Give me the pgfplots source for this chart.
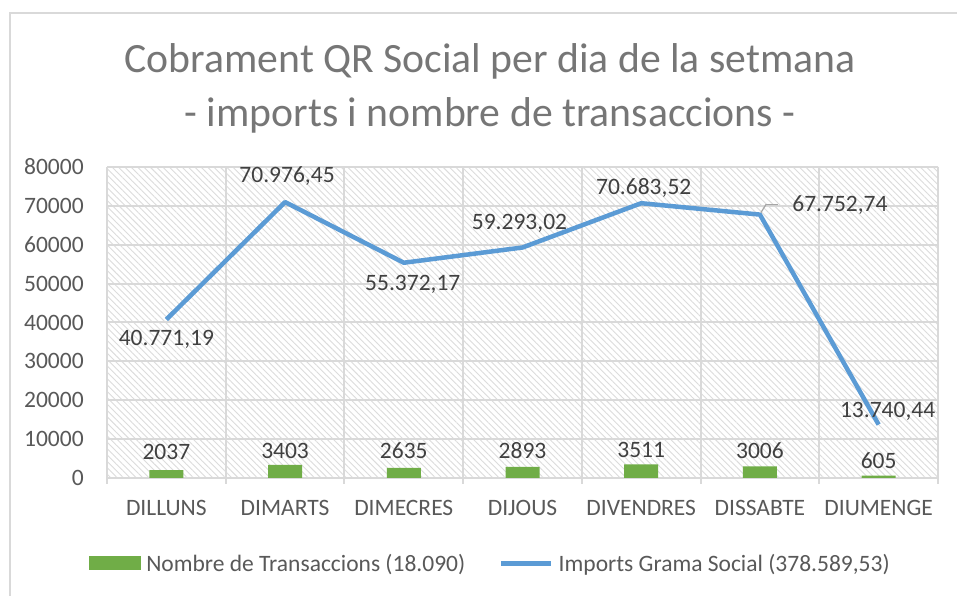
\documentclass[border=0pt]{standalone}
\usepackage{pgfplots}
\pgfplotsset{compat=1.18}
\usepackage{pgfplotstable}
\usepackage{fontspec}
\setmainfont{Carlito}
\usetikzlibrary{patterns.meta}
\definecolor{barg}{HTML}{70AD47}
\definecolor{lineb}{HTML}{5B9BD5}
\definecolor{gridg}{HTML}{D9D9D9}
\definecolor{hatch}{HTML}{DCDCDC}
\definecolor{ticktxt}{HTML}{595959}
\definecolor{lbltxt}{HTML}{404040}
\definecolor{titletxt}{HTML}{767676}

\pgfplotstableread{
x n gap
0 2037 11
1 3403 5.8
2 2635 8.8
3 2893 7.8
4 3511 6.4
5 3006 8.3
6 605 7.6
}\bars

\pgfplotstableread{
x y dx dy lbl
0 40771.19 0 -19.4 40.771,19
1 70976.45 2 26 70.976,45
2 55372.17 9 -21.3 55.372,17
3 59293.02 -3 24.3 59.293,02
4 70683.52 2.5 15.3 70.683,52
5 67752.74 80 9.6 67.752,74
6 13740.44 9 13 13.740,44
}\imports

\begin{document}
\begin{tikzpicture}
\useasboundingbox (0,0) rectangle (957pt,596pt);
\fill[white] (0,0) rectangle (957pt,596pt);
\draw[gridg, line width=1.5pt] (10pt,-10pt) -- (10pt,583pt) -- (990pt,583pt);
\node[anchor=base, text=titletxt, font=\fontsize{41.7}{50}\selectfont, inner sep=0pt] at (490pt,523.3pt) {Cobrament QR Social per dia de la setmana};
\node[anchor=base, text=titletxt, font=\fontsize{41.7}{50}\selectfont, inner sep=0pt] at (490pt,469.3pt) {- imports i nombre de transaccions -};
\begin{axis}[
  at={(107pt,118pt)}, anchor=south west,
  scale only axis, width=831pt, height=311pt,
  clip=false,
  xmin=-0.5, xmax=6.5, ymin=0, ymax=80000,
  xtick={0,...,6},
  xticklabels={DILLUNS,DIMARTS,DIMECRES,DIJOUS,DIVENDRES,DISSABTE,DIUMENGE},
  minor xtick={-0.5,0.5,1.5,2.5,3.5,4.5,5.5,6.5},
  ytick={0,10000,...,80000},
  scaled y ticks=false,
  /pgf/number format/1000 sep={},
  /pgf/number format/assume math mode=true,
  xtick pos=bottom, ytick pos=left,
  tick align=outside,
  minor tick length=6pt,
  major x tick style={draw=none},
  minor x tick style={draw=gridg, line width=2pt},
  ytick style={draw=none},
  ymajorgrids, xminorgrids,
  major grid style={draw=gridg, line width=2pt},
  minor grid style={draw=gridg, line width=2pt},
  axis line style={draw=none},
  axis background/.style={pattern={Lines[angle=-45,distance=4.5pt,line width=0.9pt]}, pattern color=hatch},
  tick label style={text=ticktxt, font=\fontsize{23.5}{28}\selectfont},
  xticklabel style={yshift=-14.5pt},
  yticklabel style={xshift=-15.5pt},
  legend style={at={(0.4615,-0.2749)}, anchor=center, draw=none, fill=none,
    legend columns=2, text=ticktxt, font=\fontsize{23.5}{28}\selectfont,
    /tikz/every odd column/.append style={column sep=3pt},
    /tikz/every even column/.append style={column sep=32pt}},
]
\addplot[ybar, bar width=34pt, fill=barg, draw=none,
  point meta=y, nodes near coords,
  visualization depends on={\thisrow{gap}\as\bargap},
  nodes near coords style={text=lbltxt, font=\fontsize{23.5}{28}\selectfont, anchor=base, yshift=\bargap pt},
  legend image code/.code={\fill[barg] (0pt,-7pt) rectangle (52pt,7pt);}]
  table[x=x, y=n] {\bars};
\addlegendentry{Nombre de Transaccions (18.090)}
\addplot[lineb, line width=4.5pt, line join=round, mark=none,
  point meta=explicit symbolic, nodes near coords,
  visualization depends on={\thisrow{dx}\as\labdx},
  visualization depends on={\thisrow{dy}\as\labdy},
  nodes near coords style={text=lbltxt, font=\fontsize{23.5}{28}\selectfont, anchor=center, xshift=\labdx pt, yshift=\labdy pt},
  legend image code/.code={\draw[lineb, line width=4.5pt] (0pt,0pt) -- (50pt,0pt);}]
  table[x=x, y=y, meta=lbl] {\imports};
\addlegendentry{Imports Grama Social (378.589,53)}
\draw[gray!70, line width=1.2pt] (axis cs:5,67752.74) ++(1pt,2pt) -- ++(5pt,8pt) -- ++(12pt,0pt);
\end{axis}
\end{tikzpicture}
\end{document}
